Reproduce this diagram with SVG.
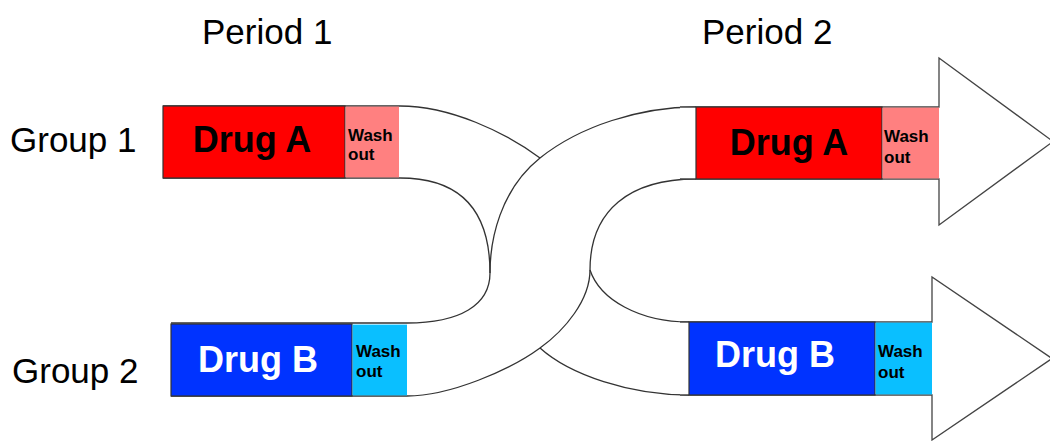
<svg xmlns="http://www.w3.org/2000/svg" width="1050" height="441" viewBox="0 0 1050 441">
<style>
.edge{fill:none;stroke:#333;stroke-width:1.3}
.arrow{fill:#fff;stroke:#444;stroke-width:1.3}
.box{stroke:#333;stroke-width:1.2}
.lbl{font-family:"Liberation Sans",Arial,sans-serif;font-size:35px;fill:#000}
.drug{font-family:"Liberation Sans",Arial,sans-serif;font-size:36px;font-weight:bold;text-anchor:middle}
.wash{font-family:"Liberation Sans",Arial,sans-serif;font-size:17px;font-weight:bold;fill:#000}
</style>
<rect width="1050" height="441" fill="#fff"/>
<g id="headers">
<text class="lbl" x="202" y="44">Period 1</text>
<text class="lbl" x="702" y="44">Period 2</text>
<text class="lbl" x="10" y="152">Group 1</text>
<text class="lbl" x="12" y="383">Group 2</text>
</g>
<g id="connectors">
<path class="edge" d="M163,106 L400,106 C450,106 505,132 540,158"/>
<path class="edge" d="M163,178 L400,178 C455,178 490,205 490,273"/>
<path class="edge" d="M171,323 L407,323 C460,323 490,305 490,273 C490,240 500,190 540,158 C580,126 640,107 696,107"/>
<path class="edge" d="M171,396 L407,396 C450,396 510,370 540,348 C565,330 590,300 590,270 C590,210 630,179 696,179"/>
<path class="edge" d="M590,270 C600,300 640,322 689,322"/>
<path class="edge" d="M540,348 C570,375 630,395 689,395"/>
</g>
<g id="arrow1">
<path class="arrow" d="M680,107 L939,107 L939,58 L1053,141.5 L939,225 L939,179 L680,179"/>
</g>
<g id="arrow2">
<path class="arrow" d="M680,322 L932,322 L932,277 L1052,358.5 L932,440 L932,395 L680,395"/>
</g>
<g id="g1p1">
<rect class="box" x="163" y="106" width="182" height="72" fill="#ff0000"/>
<rect x="345.6" y="106.6" width="53.4" height="70.8" fill="#ff8080"/>
<text class="drug" x="252" y="152" fill="#000">Drug A</text>
<text class="wash" x="348" y="141">Wash</text>
<text class="wash" x="348" y="160">out</text>
</g>
<g id="g2p1">
<rect class="box" x="171" y="324" width="181" height="72" fill="#0033ff"/>
<rect x="352.6" y="324.6" width="54.4" height="70.8" fill="#0abfff"/>
<text class="drug" x="258" y="372" fill="#fff">Drug B</text>
<text class="wash" x="356" y="357">Wash</text>
<text class="wash" x="356" y="377">out</text>
</g>
<g id="g1p2">
<rect class="box" x="696" y="107" width="186" height="72" fill="#ff0000"/>
<rect x="882.6" y="107.6" width="56.4" height="70.8" fill="#ff8080"/>
<text class="drug" x="789" y="155" fill="#000">Drug A</text>
<text class="wash" x="884" y="142">Wash</text>
<text class="wash" x="884" y="163">out</text>
</g>
<g id="g2p2">
<rect class="box" x="689" y="322" width="186" height="73" fill="#0033ff"/>
<rect x="875.6" y="322.6" width="56.4" height="71.8" fill="#0abfff"/>
<text class="drug" x="775" y="367" fill="#fff">Drug B</text>
<text class="wash" x="878" y="357">Wash</text>
<text class="wash" x="878" y="378">out</text>
</g>
</svg>
